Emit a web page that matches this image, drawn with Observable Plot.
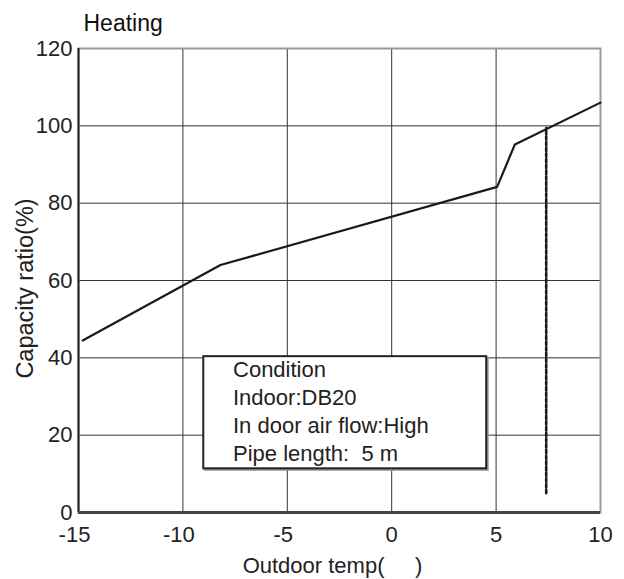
<!DOCTYPE html>
<html>
<head>
<meta charset="utf-8">
<script src="https://cdn.jsdelivr.net/npm/d3@7"></script>
<script src="https://cdn.jsdelivr.net/npm/@observablehq/plot@0.6"></script>
<style>
  html, body { margin: 0; padding: 0; background: #fff; }
  svg { display: block; }
</style>
</head>
<body>
<div id="chart"></div>
<script>
// Data
const tempX = [-14.8, -8.2, 5.05, 5.9, 10];
const capacity = [44.5, 64, 84.2, 95.2, 106];
const markerX = [7.4];
const markerY = [5, 99.4];
const xTicks = [-15, -10, -5, 0, 5, 10];
const yTicks = [0, 20, 40, 60, 80, 100, 120];
const conditionLines = ["Condition", "Indoor:DB20", "In door air flow:High", "Pipe length:  5 m"];
const boxX = [-9, 4.55];
const boxY = [11.3, 40.3];

const curve = tempX.map((t, i) => ({t, c: capacity[i]}));
const marker = markerY.map(v => ({t: markerX[0], c: v}));
const font = "Liberation Sans, Arial, Helvetica, sans-serif";
const fs = 22;

const chart = Plot.plot({
  width: 624,
  height: 579,
  marginLeft: 78,
  marginRight: 24,
  marginTop: 48,
  marginBottom: 67,
  style: {fontFamily: font, fontSize: fs + "px", color: "#222", background: "#fff"},
  x: {domain: [-15, 10], ticks: xTicks, label: null},
  y: {domain: [0, 120], ticks: yTicks, label: null},
  marks: [
    Plot.gridX(xTicks, {stroke: "#333", strokeOpacity: 1, strokeWidth: 1}),
    Plot.gridY(yTicks, {stroke: "#333", strokeOpacity: 1, strokeWidth: 1}),
    Plot.frame({stroke: "#999", strokeWidth: 2}),
    Plot.ruleX([-15], {stroke: "#222", strokeWidth: 2}),
    Plot.ruleY([0], {stroke: "#444", strokeWidth: 3}),
    // x tick labels (negative labels centred on their digits, as in the reference)
    Plot.axisX(xTicks.filter(d => d < 0), {tickSize: 0, tickPadding: 14, fontSize: fs, dx: -4, tickFormat: d => String(d), label: null}),
    Plot.axisX(xTicks.filter(d => d >= 0), {tickSize: 0, tickPadding: 14, fontSize: fs, tickFormat: d => String(d), label: null}),
    Plot.axisY({ticks: yTicks, tickSize: 0, tickPadding: 6, fontSize: fs, tickFormat: d => String(d), label: null}),
    // condition box
    Plot.rect([{x1: boxX[0], x2: boxX[1], y1: boxY[0], y2: boxY[1]}], {
      x1: "x1", x2: "x2", y1: "y1", y2: "y2", fill: "white", stroke: "#999", strokeWidth: 2, dx: 1.5, dy: 1.5
    }),
    Plot.rect([{x1: boxX[0], x2: boxX[1], y1: boxY[0], y2: boxY[1]}], {
      x1: "x1", x2: "x2", y1: "y1", y2: "y2", fill: "white", stroke: "#222", strokeWidth: 2
    }),
    Plot.text(conditionLines, {
      x: () => boxX[0] + 1.4,
      y: (d, i) => boxY[1] - 3.5 - i * 7.2,
      text: d => d,
      textAnchor: "start",
      lineAnchor: "middle",
      fontSize: fs,
      fill: "#222"
    }),
    // curve
    Plot.line(curve, {x: "t", y: "c", stroke: "#1a1a1a", strokeWidth: 2.2, strokeLinejoin: "miter"}),
    // dashed marker
    Plot.line(marker, {x: "t", y: "c", stroke: "#1a1a1a", strokeWidth: 2.6, strokeDasharray: "3.5,2.2"}),
    // labels
    Plot.text(["Heating"], {frameAnchor: "top-left", dx: 5, dy: -25, textAnchor: "start", lineAnchor: "middle", fontSize: 23, fill: "#111"}),
    Plot.text(["Outdoor temp(     )"], {frameAnchor: "bottom", dx: -7, dy: 53, textAnchor: "middle", lineAnchor: "middle", fontSize: fs, fill: "#222"}),
    Plot.text(["Capacity ratio(%)"], {frameAnchor: "left", dx: -53, dy: 8, rotate: -90, textAnchor: "middle", lineAnchor: "middle", fontSize: 23.5, fill: "#222"})
  ]
});
document.getElementById("chart").appendChild(chart);
</script>
</body>
</html>
